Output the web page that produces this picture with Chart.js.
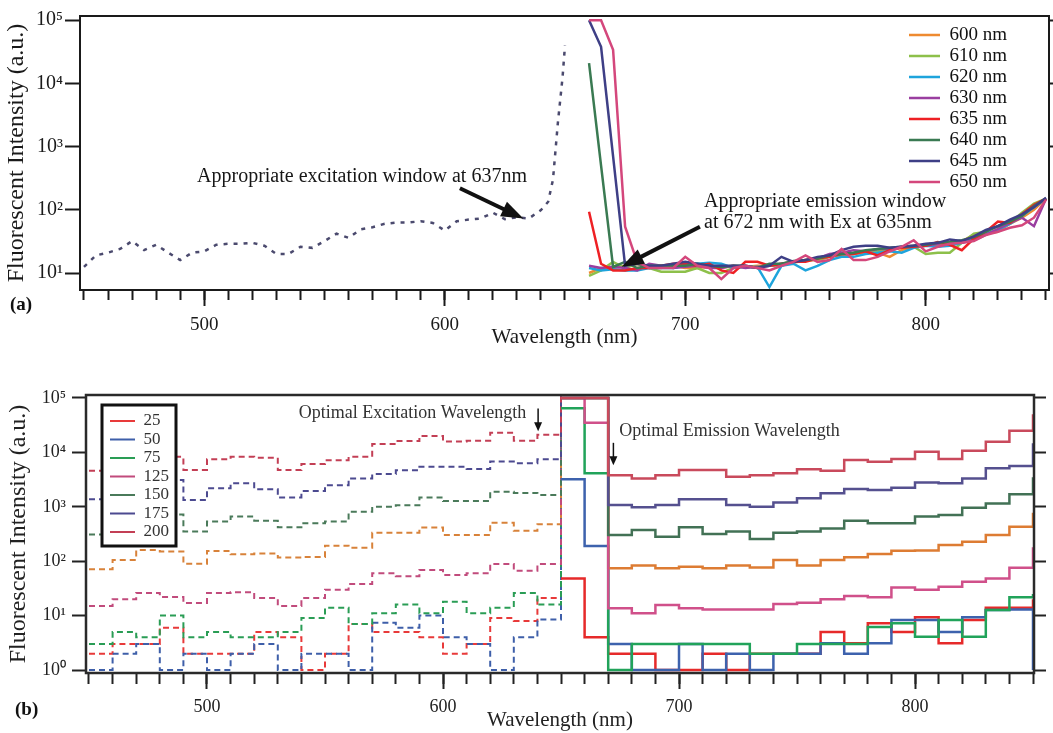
<!DOCTYPE html>
<html><head><meta charset="utf-8">
<script src="https://cdn.jsdelivr.net/npm/chart.js@4/dist/chart.umd.min.js"></script>
<style>
html,body{margin:0;padding:0;background:#fff;}
#wrap{position:relative;width:1053px;height:733px;overflow:hidden;background:#fff;}
.box{position:absolute;left:0;width:1053px;}
#boxA{top:0;height:352px;}
#boxB{top:352px;height:381px;}
</style></head><body>
<div id="wrap"><div class="box" id="boxA"><canvas id="cA"></canvas></div><div class="box" id="boxB"><canvas id="cB"></canvas></div></div>
<script>
// ================= DATA =================
// shared tick values
const minorTicks = []; for (let v = 450; v <= 850; v += 10) minorTicks.push(v);
const majorTicks = [500, 600, 700, 800];
const yTicksA = [10, 100, 1000, 10000, 100000];
const yTicksB = [1, 10, 100, 1000, 10000, 100000];

// ---- Panel (a): excitation scan (dotted) ----
const excWl   = [450,455,460,465,470,475,480,485,490,495,500,505,510,515,520,525,530,535,540,545,550,555,560,565,570,575,580,585,590,595,600,605,610,615,620,625,630,635,640,643,645,647,649,650];
const excVals = [12.5,19,21,24,32,23,28,21,16,21,22,28,29,29,30,27,20,20,26,25,32,42,36,49,53,60,63,63,66,62,47,66,70,73,90,71,76,73,99,134,300,2300,12700,40000];

// ---- Panel (a): emission scans for each excitation wavelength ----
const emWl  = [660,665,670,675,680,685,690,695,700,705,710,715,720,725,730,735,740,745,750,755,760,765,770,775,780,785,790,795,800,805,810,815,820,825,830,835,840,845,850];
const em600 = [10,12,12,13,14,12,12,13,12, 12,12.5,12,13,12.5,13,13,13.5,14.5, 16,16,18,19,20,21,21,18,23, 26,27,28,30,32,40,42,45,60, 75,100,150];
const em610 = [9,11,15,12,14,12,10.5,10.5,10.5, 12,10,10,12,12.5,12.5,13,13,15, 16,16,18,20,21,22,22,24,25, 26,20,21,21,30,42,45,55,62, 90,125,150];
const em620 = [12,11,11.5,11,11,12,12,12,13, 14,14.5,14,12,12.5,12.5,6,13,14, 11,13,16,18,18,20,21,22,21, 25,27,26,27,30,35,42,48,60, 80,110,150];
const em630 = [13,12,12.5,12,11,14,13,12,12.5, 13,12,12,13,12,12.5,13,14,15, 16,17,20,21,23,22,24,24,26, 27,27,29,31,30,33,40,50,62, 75,55,150];
const em635 = [93,14,11,11,12,12,13,14,14, 13,14,11,10,15,15,13,14,15, 15,17,18,20,20,22,19,23,25, 26,27,31,28,23,35,45,65,62, 85,120,150];
const em640 = [21000,500,12.5,15,12,13,13,13,13, 14,13,12.5,13,13,12,14,14,15.5, 16,17,19,20,21,23,24,25,26, 27,28,30,31,33,37,45,55,65, 80,115,150];
const em645 = [100000,38000,700,13,14,13,13,14,15, 14,13,13,13,13,12,13,18,15, 16,18,19,23,26,27,27,25,26, 27,29,30,34,32,38,48,55,70, 85,110,155];
const em650 = [100000,100000,34000,54,15,12,12,12,18, 13,12,8,12,13,12,11,13,15, 19,15,16,24,16,16,18,22,26, 33,22,26,29,30,32,40,45,52, 57,75,145];
const emLabels = ['600 nm','610 nm','620 nm','630 nm','635 nm','640 nm','645 nm','650 nm'];

// ---- Panel (b): binned (10 nm) excitation / emission spectra ----
const excBins = [450,460,470,480,490,500,510,520,530,540,550,560,570,580,590,600,610,620,630,640,650];
const emiBins = [650,660,670,680,690,700,710,720,730,740,750,760,770,780,790,800,810,820,830,840,850];
const exc25  = [2,3,3,6,2,2,2,5,4,1,2,7,5,5,4,2,3,9,8,21,120000];
const exc50  = [1,2,3,1,2,1,2,3,1,2,2,1,7.4,6,10,4,3,1,4,8.5,120000];
const exc75  = [3,5,4,10,4,5,4,4,5,9,14,7,11,16,11,18,11,14,26,16,120000];
const exc100 = [71,105,160,150,90,154,134,139,117,120,193,177,334,335,415,303,303,510,362,480,120000];
const exc125 = [15,20,26,22,17,26,27,21,15,21,30,38,60,53,69,56,60,89,67,89,120000];
const exc150 = [311,420,560,720,350,535,660,555,420,500,535,815,1000,1070,1490,1280,1280,1900,1800,1650,120000];
const exc175 = [1380,1700,2300,3100,1330,2190,2700,2100,1490,1950,2500,3330,4000,4700,5450,5450,4950,6800,6300,7500,120000];
const exc200 = [4600,5200,6300,8300,4750,7450,8300,8000,4750,6100,7200,8300,14200,16200,20000,15800,16400,23000,16400,21000,120000];
const emi25  = [48,4,2,2,1,1,2,1,2,2,2,5,3.1,7.2,5,9.3,3.1,8.3,14,14,20];
const emi50  = [3200,190,3,1,1,3,1,2,1,2,2,3.1,2,3.1,8.3,8.3,5,9.3,12.7,13,1];
const emi75  = [65000,4150,1,3,3,3,3,3,2,2,3,3,3,6.2,7.2,4.1,8.3,4.1,12.7,21.7,25];
const emi100 = [100000,100000,74,83,74,79,74,83,77,105,83,105,118,135,155,157,198,228,303,430,780];
const emi125 = [100000,35000,13.6,11,15.7,13.6,13,13,13,16.3,17.3,19.9,23,21.7,33,30,34,42,48,76,180];
const emi150 = [100000,100000,303,375,282,420,315,350,256,332,350,400,555,500,500,660,710,960,1150,1700,3480];
const emi175 = [100000,100000,1080,980,1080,1380,1380,1080,1000,1200,1440,1770,2130,2030,2240,2800,2700,3330,5100,5600,14700];
const emi200 = [100000,100000,3800,3330,3800,4750,4750,3560,3800,4150,4900,4600,7250,6750,7600,10300,7600,10700,15700,25000,50000];
const binLabels = ['25','50','75','100','125','150','175','200'];

// ================= STYLE =================
const FAM = "'Liberation Serif', 'Times New Roman', serif";
Chart.defaults.font.family = FAM;
const colorsA = ['#ee8a30','#8dc04a','#1ea4dc','#9a3ea0','#ee2024','#3a7a52','#3e3f86','#d4477c'];
const excColorA = '#4b4a6e';
const dashColB  = ['#e83a3a','#3e5fa9','#2a9d55','#d8823a','#c14b7c','#4a7a5a','#4c4a90','#c33f55'];
const solidColB = ['#e62a2a','#3d62ad','#21a35a','#dd7c33','#d0508a','#427155','#55508f','#c94a5c'];

const SUP = {'-':'\u207B','0':'\u2070','1':'\u00B9','2':'\u00B2','3':'\u00B3','4':'\u2074','5':'\u2075','6':'\u2076','7':'\u2077','8':'\u2078','9':'\u2079'};
function powLabel(v){ const e = Math.round(Math.log10(v)); return '10' + String(e).split('').map(c => SUP[c]).join(''); }
const pts = (xs, ys) => xs.map((x, i) => ({x, y: ys[i]}));

function arrow(ctx, x1, y1, x2, y2, lw, hl, hw, color){
  const a = Math.atan2(y2 - y1, x2 - x1);
  const bx = x2 - hl * Math.cos(a), by = y2 - hl * Math.sin(a);
  ctx.save(); ctx.strokeStyle = color; ctx.fillStyle = color; ctx.lineWidth = lw;
  ctx.beginPath(); ctx.moveTo(x1, y1); ctx.lineTo(bx + Math.cos(a), by + Math.sin(a)); ctx.stroke();
  ctx.beginPath(); ctx.moveTo(x2, y2);
  ctx.lineTo(bx + hw * Math.sin(a), by - hw * Math.cos(a));
  ctx.lineTo(bx - hw * Math.sin(a), by + hw * Math.cos(a));
  ctx.closePath(); ctx.fill(); ctx.restore();
}
function fixX(chart, h){
  const ca = chart.chartArea, xs = chart.scales.x, xm = chart.scales.xMajor;
  xs.top = ca.bottom; xs.bottom = ca.bottom; xs.height = 0;
  xm.top = ca.bottom; xm.bottom = ca.bottom + h; xm.height = h;
}
function drawAnn(chart, ann){
  const {ctx, scales: {x, y}} = chart;
  ann.texts.forEach(t => {
    ctx.save(); ctx.font = `${t.size}px ${FAM}`; ctx.fillStyle = t.color;
    ctx.textBaseline = 'middle'; ctx.textAlign = 'left';
    ctx.fillText(t.text, x.getPixelForValue(t.nm), y.getPixelForValue(t.val)); ctx.restore();
  });
  ann.arrows.forEach(a => arrow(ctx, x.getPixelForValue(a.from[0]), y.getPixelForValue(a.from[1]),
    x.getPixelForValue(a.to[0]), y.getPixelForValue(a.to[1]), a.lw, a.hl, a.hw, a.color));
}

// annotation anchors (data coordinates)
const annA = {
  texts: [
    {text: 'Appropriate excitation window at 637nm', nm: 497, val: 330, size: 20, color: '#161616'},
    {text: 'Appropriate emission window', nm: 707.8, val: 134, size: 20, color: '#161616'},
    {text: 'at 672 nm with Ex at 635nm', nm: 707.8, val: 62, size: 20, color: '#161616'}
  ],
  arrows: [
    {from: [606.3, 219], to: [632.7, 73], lw: 4, hl: 22, hw: 8, color: '#111'},
    {from: [706.1, 54], to: [673.6, 12.6], lw: 4, hl: 22, hw: 8, color: '#111'}
  ]
};
const annB = {
  texts: [
    {text: 'Optimal Excitation Wavelength', nm: 538.9, val: 52000, size: 18, color: '#333'},
    {text: 'Optimal Emission Wavelength', nm: 674.7, val: 24000, size: 18, color: '#333'}
  ],
  arrows: [
    {from: [640.3, 64000], to: [640.3, 24500], lw: 1.5, hl: 9, hw: 4, color: '#111'},
    {from: [672.2, 15000], to: [672.2, 5800], lw: 1.5, hl: 9, hw: 4, color: '#111'}
  ]
};
const byIndex = (a, b) => a.datasetIndex - b.datasetIndex;

// ================= CHART (a) =================
const XA = [448.34, 851.25], YA = [Math.pow(10, 0.731), Math.pow(10, 5.067)];
const emSeriesA = [em600, em610, em620, em630, em635, em640, em645, em650];
const dsA = emSeriesA.map((d, i) => ({
  label: emLabels[i], data: pts(emWl, d), borderColor: colorsA[i], backgroundColor: colorsA[i],
  borderWidth: 2.5, pointRadius: 0, tension: 0, inLegend: true, order: 10 - i
}));
dsA.push({label: 'Excitation', data: pts(excWl, excVals), borderColor: excColorA, backgroundColor: excColorA,
  borderWidth: 2.5, borderDash: [4, 6], pointRadius: 0, tension: 0, inLegend: false, order: 20});

const tickCol = '#1a1a1a';
const plugA = {
  id: 'plugA',
  afterLayout(chart){ fixX(chart, 62); const lg = chart.legend; lg.left = 907; lg.top = 23.5; },
  afterDatasetsDraw(chart){
    const {ctx, chartArea: ca} = chart;
    ctx.save(); ctx.strokeStyle = tickCol; ctx.lineWidth = 2;
    ctx.strokeRect(ca.left, ca.top, ca.right - ca.left, ca.bottom - ca.top); ctx.restore();
    drawAnn(chart, annA);
  },
  afterDraw(chart){
    const ctx = chart.ctx; ctx.save(); ctx.font = `bold 19px ${FAM}`; ctx.fillStyle = '#111';
    ctx.textBaseline = 'middle'; ctx.fillText('(a)', 10, 305); ctx.restore();
  }
};

new Chart(document.getElementById('cA'), {
  type: 'line',
  data: {datasets: dsA},
  options: {
    responsive: true, maintainAspectRatio: false, animation: false,
    layout: {padding: {top: 16, left: 0, right: 0, bottom: 0}},
    plugins: {
      tooltip: {enabled: false},
      legend: {position: 'chartArea', align: 'start',
        labels: {usePointStyle: true, pointStyle: 'line', pointStyleWidth: 31, font: {size: 19}, color: '#111', padding: 2,
          sort: byIndex,
          filter: (item, data) => data.datasets[item.datasetIndex].inLegend}}
    },
    scales: {
      x: {type: 'linear', position: 'bottom', min: XA[0], max: XA[1], weight: 0,
        afterBuildTicks: s => { s.ticks = minorTicks.map(v => ({value: v})); },
        afterFit: s => { s.height = 0; },
        ticks: {display: false},
        grid: {drawOnChartArea: false, tickLength: 10, tickWidth: 2, tickColor: tickCol},
        border: {display: false}},
      xMajor: {type: 'linear', position: 'bottom', min: XA[0], max: XA[1], weight: 1,
        afterBuildTicks: s => { s.ticks = majorTicks.map(v => ({value: v})); },
        afterFit: s => { s.height = 62; },
        ticks: {font: {size: 19}, color: tickCol, padding: 8, maxRotation: 0, autoSkip: false, callback: v => String(v)},
        grid: {drawOnChartArea: false, tickLength: 16, tickWidth: 2, tickColor: tickCol},
        border: {display: false},
        title: {display: true, text: 'Wavelength (nm)', font: {size: 21}, color: tickCol, padding: {top: 0, bottom: 2}}},
      y: {type: 'logarithmic', position: 'left', min: YA[0], max: YA[1],
        afterBuildTicks: s => { s.ticks = yTicksA.map(v => ({value: v})); },
        afterFit: s => { s.width = 80; },
        ticks: {font: {size: 20}, color: tickCol, padding: 2, autoSkip: false, callback: v => powLabel(v)},
        grid: {drawOnChartArea: false, tickLength: 15, tickWidth: 2, tickColor: tickCol},
        border: {display: false},
        title: {display: true, text: 'Fluorescent Intensity (a.u.)', font: {size: 24}, color: tickCol, padding: {top: 2, bottom: 0}}},
      y2: {type: 'logarithmic', position: 'right', min: YA[0], max: YA[1],
        afterBuildTicks: s => { s.ticks = yTicksA.map(v => ({value: v})); },
        afterFit: s => { s.width = 4; },
        ticks: {display: false},
        grid: {drawOnChartArea: false, tickLength: 8, tickWidth: 2, tickColor: tickCol},
        border: {display: false}}
    }
  },
  plugins: [plugA]
});

// ================= CHART (b) =================
const XB = [448.73, 850.42], YB = [Math.pow(10, -0.055), Math.pow(10, 5.055)];
const excB = [exc25, exc50, exc75, exc100, exc125, exc150, exc175, exc200];
const emiB = [emi25, emi50, emi75, emi100, emi125, emi150, emi175, emi200];
const dsB = [];
excB.forEach((d, i) => dsB.push({
  label: binLabels[i], data: pts(excBins, d), borderColor: dashColB[i], backgroundColor: dashColB[i],
  borderWidth: 2, borderDash: [6, 4], stepped: 'before', pointRadius: 0, tension: 0,
  inLegend: binLabels[i] !== '100', order: 30 - i
}));
emiB.forEach((d, i) => dsB.push({
  label: binLabels[i] + ' em', data: pts(emiBins, d), borderColor: solidColB[i], backgroundColor: solidColB[i],
  borderWidth: 2.5, stepped: 'before', pointRadius: 0, tension: 0, inLegend: false, order: 20 - i
}));

const tickColB = '#222';
const plugB = {
  id: 'plugB',
  afterLayout(chart){ fixX(chart, 60); const lg = chart.legend; lg.left = 108.5; lg.top = 59; },
  afterDatasetsDraw(chart){
    const {ctx, chartArea: ca} = chart;
    ctx.save(); ctx.strokeStyle = '#2a2a2a'; ctx.lineWidth = 2.5;
    ctx.strokeRect(ca.left, ca.top, ca.right - ca.left, ca.bottom - ca.top);
    // legend frame
    ctx.fillStyle = '#fff'; ctx.fillRect(102, 53, 74, 141);
    ctx.strokeStyle = '#111'; ctx.lineWidth = 3; ctx.strokeRect(102, 53, 74, 141);
    ctx.restore();
    chart.legend.draw();
    drawAnn(chart, annB);
  },
  afterDraw(chart){
    const ctx = chart.ctx; ctx.save(); ctx.font = `bold 19px ${FAM}`; ctx.fillStyle = '#111';
    ctx.textBaseline = 'middle'; ctx.fillText('(b)', 15, 358); ctx.restore();
  }
};

new Chart(document.getElementById('cB'), {
  type: 'line',
  data: {datasets: dsB},
  options: {
    responsive: true, maintainAspectRatio: false, animation: false,
    layout: {padding: {top: 43, left: 0, right: 0, bottom: 0}},
    plugins: {
      tooltip: {enabled: false},
      legend: {position: 'chartArea', align: 'start',
        labels: {usePointStyle: true, pointStyle: 'line', pointStyleWidth: 25, font: {size: 17}, color: '#333', padding: 1.5,
          sort: byIndex,
          filter: (item, data) => data.datasets[item.datasetIndex].inLegend}}
    },
    scales: {
      x: {type: 'linear', position: 'bottom', min: XB[0], max: XB[1], weight: 0,
        afterBuildTicks: s => { s.ticks = minorTicks.map(v => ({value: v})); },
        afterFit: s => { s.height = 0; },
        ticks: {display: false},
        grid: {drawOnChartArea: false, tickLength: 11, tickWidth: 2, tickColor: tickColB},
        border: {display: false}},
      xMajor: {type: 'linear', position: 'bottom', min: XB[0], max: XB[1], weight: 1,
        afterBuildTicks: s => { s.ticks = majorTicks.map(v => ({value: v})); },
        afterFit: s => { s.height = 60; },
        ticks: {font: {size: 18}, color: tickColB, padding: 7, maxRotation: 0, autoSkip: false, callback: v => String(v)},
        grid: {drawOnChartArea: false, tickLength: 16, tickWidth: 2, tickColor: tickColB},
        border: {display: false},
        title: {display: true, text: 'Wavelength (nm)', font: {size: 21}, color: tickColB, padding: {top: 0, bottom: 0}}},
      y: {type: 'logarithmic', position: 'left', min: YB[0], max: YB[1],
        afterBuildTicks: s => { s.ticks = yTicksB.map(v => ({value: v})); },
        afterFit: s => { s.width = 86; },
        ticks: {font: {size: 18}, color: tickColB, padding: 6, autoSkip: false, callback: v => powLabel(v)},
        grid: {drawOnChartArea: false, tickLength: 14, tickWidth: 2, tickColor: tickColB},
        border: {display: false},
        title: {display: true, text: 'Fluorescent Intensity (a.u.)', font: {size: 24}, color: tickColB, padding: {top: 4, bottom: 0}}},
      y2: {type: 'logarithmic', position: 'right', min: YB[0], max: YB[1],
        afterBuildTicks: s => { s.ticks = yTicksB.map(v => ({value: v})); },
        afterFit: s => { s.width = 19; },
        ticks: {display: false},
        grid: {drawOnChartArea: false, tickLength: 12, tickWidth: 2, tickColor: tickColB},
        border: {display: false}}
    }
  },
  plugins: [plugB]
});
</script>
</body></html>
